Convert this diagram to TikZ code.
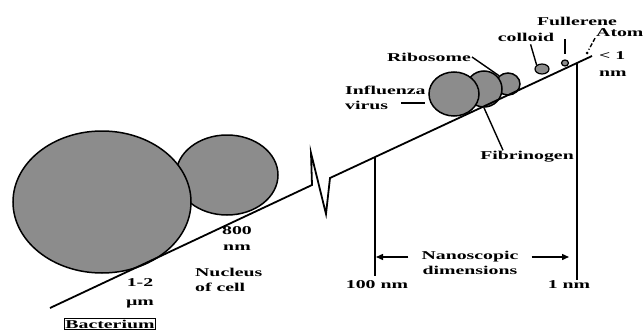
\documentclass[tikz,border=0pt]{standalone}
\usepackage{fontspec}
\newfontfamily\lblfont{Liberation Serif Bold}[FakeStretch=1.65]
\usetikzlibrary{arrows.meta,shapes.geometric,calc}
\definecolor{blobgray}{HTML}{8C8C8C}

\begin{document}
\begin{tikzpicture}[
    x=1pt, y=-1pt,
    blob/.style={ellipse, draw=black, fill=blobgray, line width=1.5pt, inner sep=0pt},
    lbl/.style={font=\lblfont\fontsize{12}{15}\selectfont, inner sep=1pt},
    lead/.style={line width=1.4pt},
    axis/.style={line width=1.8pt, line join=miter},
    tick/.style={line width=1.6pt},
    dimarrow/.style={-{Triangle[length=7pt,width=6pt]}, line width=1.4pt},
  ]
  \useasboundingbox (0,0) rectangle (643,332);

  % =================== Particles ===================
  \node[blob, minimum width=102pt, minimum height=80pt] (nucleus) at (227,175) {};
  \node[blob, minimum width=178pt, minimum height=142pt] (bacterium) at (102,202) {};

  \node[blob, minimum width=24pt, minimum height=22pt] (ribo) at (508,84) {};
  \node[blob, minimum width=36pt, minimum height=36pt] (fibrin) at (484,89) {};
  \node[blob, minimum width=50pt, minimum height=44pt] (influ) at (454,94) {};
  \node[blob, minimum width=14pt, minimum height=10pt, line width=1.2pt] (colloid) at (542,69) {};
  \node[blob, minimum width=7pt, minimum height=6pt, line width=1.2pt] (fuller) at (565,63) {};
  \node[circle, fill=black, minimum size=3pt, inner sep=0pt] (atom) at (587,53) {};

  % =================== Size axis with break ===================
  \coordinate (axStart) at (50,308);
  \coordinate (brkA) at (312,185);
  \coordinate (brkB) at (311,153);
  \coordinate (brkC) at (326,214);
  \coordinate (brkD) at (330,178);
  \coordinate (axEnd) at (592,56);
  \draw[axis] (axStart) -- (brkA) -- (brkB) -- (brkC) -- (brkD) -- (axEnd);

  % Ticks
  \coordinate (t100top) at (375,157);
  \coordinate (t100bot) at (375,276);
  \coordinate (t1top) at (577,63);
  \coordinate (t1bot) at (577,280);
  \draw[tick] (t100top) -- (t100bot);
  \draw[tick] (t1top) -- (t1bot);

  % =================== Labels ===================
  \node[lbl] (size12) at (140,283) {1-2};
  \node[lbl] (sizeum) at (140,304) {µm};
  \node[lbl, draw, line width=0.6pt, inner sep=1.2pt] (bactL) at (110,324) {Bacterium};

  \node[lbl] (size800) at (237,231) {800};
  \node[lbl] (size800nm) at (237,248) {nm};
  \node[lbl, align=left, anchor=west] (nucL) at (194,280) {Nucleus\\of cell};

  \node[lbl] (n100) at (377,285) {100 nm};
  \node[lbl] (n1) at (569,285) {1 nm};
  \node[lbl] (nanoA) at (470,257) {Nanoscopic};
  \node[lbl] (nanoB) at (470,270) {dimensions};
  \draw[dimarrow, shorten >=1pt] ([xshift=-12pt]nanoA.west) -- (nanoA.west -| t100top);
  \draw[dimarrow, shorten >=8pt] ([xshift=12pt]nanoA.east) -- (nanoA.east -| t1top);

  \node[lbl, anchor=west] (inflA) at (344,90) {Influenza};
  \node[lbl, anchor=west] (inflB) at (344,105) {virus};
  \draw[lead, shorten <=12pt, shorten >=3pt] (inflB.east |- 0,103) -- (influ.west |- 0,103);

  \node[lbl] (riboL) at (429,57) {Ribosome};
  \draw[lead] (riboL.east) -- (ribo.north west);

  \node[lbl] (fibL) at (527,157) {Fibrinogen};
  \draw[lead] (fibrin.south) -- ($(fibL.north west)!0.25!(fibL.north east)$);

  \node[lbl] (colL) at (526,37) {colloid};
  \draw[lead, shorten <=2pt] ([xshift=4pt]colL.south) -- (colloid.north west);

  \node[lbl] (fulL) at (577,21) {Fullerene};
  \draw[lead, shorten <=13pt, shorten >=5pt] (fuller.north |- fulL.south) -- (fuller.north);

  \node[lbl, anchor=west] (atomL) at (595,33) {Atom};
  \draw[lead, dash pattern=on 4pt off 2pt, shorten >=2pt] (atomL.south west) -- (atom);
  \node[lbl, anchor=west] (lt1) at (598,56) {\textless\ 1};
  \node[lbl, anchor=west] (lt1nm) at (598,74) {nm};

\end{tikzpicture}
\end{document}
